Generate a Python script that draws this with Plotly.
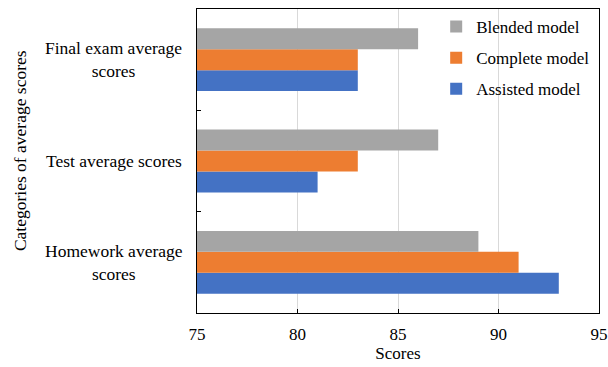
import plotly.graph_objects as go

categories = ["Homework average<br>scores", "Test average scores", "Final exam average<br>scores"]
assisted = [93, 81, 83]
complete = [91, 83, 83]
blended = [89, 87, 86]
series_names = ["Assisted model", "Complete model", "Blended model"]
x_ticks = [75, 80, 85, 90, 95]

FONT = "Liberation Serif, Times New Roman, serif"
colors = ["#4472C4", "#ED7D31", "#A5A5A5"]
ranks = [3, 2, 1]

fig = go.Figure()
for name, vals, col, rk in zip(series_names, [assisted, complete, blended], colors, ranks):
    fig.add_trace(go.Bar(
        y=categories, x=vals, name=name, orientation="h",
        marker=dict(color=col, line=dict(width=0)),
        legendgroup=name, legendrank=rk,
    ))

for cat in categories:
    fig.add_annotation(
        x=-0.2065, xref="paper", y=cat, yref="y", text=cat, showarrow=False,
        xanchor="center", yanchor="middle", align="center",
        font=dict(family=FONT, size=17.5, color="#000000"),
    )

fig.add_annotation(
    x=-0.44, xref="paper", y=0.533, yref="paper", text="Categories of average scores",
    showarrow=False, textangle=-90, xanchor="center", yanchor="middle",
    font=dict(family=FONT, size=17.5, color="#000000"),
)

fig.update_layout(
    width=608, height=367,
    margin=dict(l=197, r=9, t=9, b=54, autoexpand=False),
    paper_bgcolor="white", plot_bgcolor="white",
    barmode="group", bargap=0.38, bargroupgap=0,
    font=dict(family=FONT, size=17, color="#000000"),
    legend=dict(
        x=0.595, y=1.0, xanchor="left", yanchor="top",
        traceorder="grouped", tracegroupgap=6,
        bgcolor="rgba(0,0,0,0)", font=dict(family=FONT, size=17),
        itemwidth=30,
    ),
    showlegend=True,
)

fig.update_xaxes(
    range=[75, 95], tickvals=x_ticks, ticktext=[str(v) for v in x_ticks],
    showgrid=True, gridcolor="#D9D9D9", gridwidth=1,
    ticks="inside", ticklen=4, tickcolor="#000000",
    showline=True, linecolor="#000000", linewidth=1, mirror=True,
    zeroline=False, ticklabelstandoff=6, automargin=False,
    title=dict(text="Scores", font=dict(family=FONT, size=17), standoff=3),
    tickfont=dict(family=FONT, size=17),
)
fig.update_yaxes(
    type="category", categoryorder="array", categoryarray=categories,
    range=[-0.5, 2.5], showticklabels=False, automargin=False,
    ticks="inside", ticklen=4, tickcolor="#000000", tickson="boundaries",
    showgrid=False,
    showline=True, linecolor="#000000", linewidth=1, mirror=True,
    zeroline=False,
)

fig.write_html("out.html")
